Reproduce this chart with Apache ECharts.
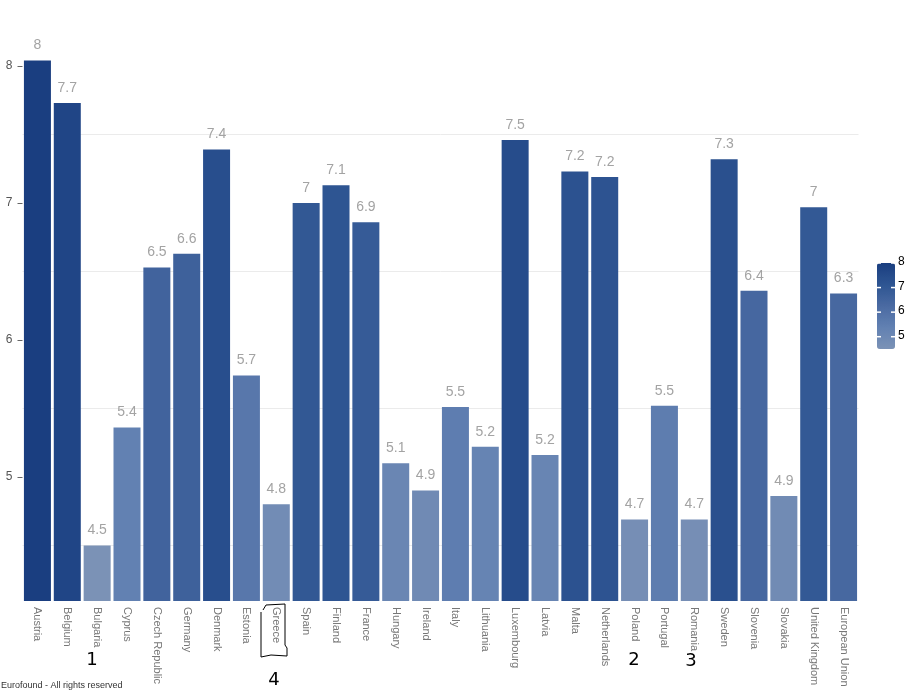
<!DOCTYPE html>
<html>
<head>
<meta charset="utf-8">
<script src="https://cdn.jsdelivr.net/npm/echarts@6/dist/echarts.min.js"></script>
<style>
  html, body { margin: 0; padding: 0; background: #fff; }
  #chart { width: 920px; height: 690px; }
</style>
</head>
<body>
<div id="chart"></div>
<script>
// countries, in the order shown
var countries = ['Austria', 'Belgium', 'Bulgaria', 'Cyprus', 'Czech Republic', 'Germany', 'Denmark',
  'Estonia', 'Greece', 'Spain', 'Finland', 'France', 'Hungary', 'Ireland', 'Italy', 'Lithuania',
  'Luxembourg', 'Latvia', 'Malta', 'Netherlands', 'Poland', 'Portugal', 'Romania', 'Sweden',
  'Slovenia', 'Slovakia', 'United Kingdom', 'European Union']
// mean score
var scores = [8.04, 7.73, 4.5, 5.36, 6.53, 6.63, 7.39, 5.74, 4.8, 7.0, 7.13, 6.86, 5.1, 4.9, 5.51, 5.22,
  7.46, 5.16, 7.23, 7.19, 4.69, 5.52, 4.69, 7.32, 6.36, 4.86, 6.97, 6.34]
var yTicks = [5, 6, 7, 8]
var gridLines = [4.5, 7.5]       // first / last light guide line
var legendTicks = [5, 6, 7, 8]
var colorMin = 4.5, colorMax = 8
// handwritten marks on the picture
var notes = [
  { text: '1', x: 92, y: 660 },
  { text: '2', x: 634, y: 660 },
  { text: '3', x: 691, y: 661 },
  { text: '4', x: 274, y: 680 }
]

var chart = echarts.init(document.getElementById('chart'))

var legTop = 263, legH = 86, legLeft = 877, legW = 18
var legendGraphics = []
legendTicks.forEach(function (v) {
  var y = legTop + (colorMax - v) / (colorMax - colorMin) * legH
  legendGraphics.push({ type: 'line', shape: { x1: legLeft, y1: y, x2: legLeft + 4, y2: y }, style: { stroke: '#fff', lineWidth: 1.5 }, z: 100 })
  legendGraphics.push({ type: 'line', shape: { x1: legLeft + legW - 4, y1: y, x2: legLeft + legW, y2: y }, style: { stroke: '#fff', lineWidth: 1.5 }, z: 100 })
  legendGraphics.push({ type: 'text', left: 898, top: y - 7, style: { text: String(v), fill: '#000', font: '12px "Liberation Sans"' }, z: 100 })
})

var noteGraphics = notes.map(function (n) {
  return { type: 'text', x: n.x, y: n.y, style: { text: n.text, fill: '#000', font: '18px "DejaVu Sans"', align: 'center', verticalAlign: 'middle' } }
})

chart.setOption({
  animation: false,
  grid: [
    { left: 22.5, right: 61.5, top: 25, bottom: 89 },
    { left: 22.5, right: 61.5, top: 134.7, bottom: 144.6 }
  ],
  xAxis: [
    {
      type: 'category',
      gridIndex: 0,
      data: countries,
      axisLine: { show: false },
      axisTick: { alignWithLabel: true, length: 4, lineStyle: { color: '#888' } },
      axisLabel: { rotate: -90, interval: 0, color: '#777', fontSize: 11, margin: 6, fontFamily: 'Liberation Sans' }
    },
    { type: 'value', gridIndex: 1, show: false }
  ],
  yAxis: [
    {
      type: 'value',
      gridIndex: 0,
      min: 4.094,
      max: 8.3,
      splitLine: { show: false },
      axisLine: { show: false },
      axisTick: { show: true, length: 5, customValues: yTicks, lineStyle: { color: '#666' } },
      axisLabel: { customValues: yTicks, color: '#555', fontSize: 12, margin: 10, fontFamily: 'Liberation Sans' }
    },
    {
      type: 'value',
      gridIndex: 1,
      min: gridLines[0],
      max: gridLines[1],
      interval: 1,
      axisLine: { show: false },
      axisTick: { show: false },
      axisLabel: { show: false },
      splitLine: { show: true, lineStyle: { color: '#ebebeb', width: 1 } }
    }
  ],
  visualMap: {
    type: 'continuous',
    seriesIndex: 0,
    min: colorMin,
    max: colorMax,
    calculable: false,
    left: legLeft,
    top: legTop,
    padding: 0,
    itemWidth: legW,
    itemHeight: legH,
    inRange: { color: ['#7b92b6', '#6281b2', '#4a6aa2', '#2e5592', '#1a3e80'] }
  },
  series: [{
    type: 'bar',
    xAxisIndex: 0,
    yAxisIndex: 0,
    data: scores,
    barWidth: 27,
    label: {
      show: true,
      position: 'top',
      distance: 8,
      color: '#a3a3a3',
      fontSize: 14,
      fontFamily: 'Liberation Sans',
      formatter: function (p) { return String(Math.round(p.value * 10) / 10) }
    }
  }],
  graphic: [
    { type: 'text', left: 1, top: 681, style: { text: 'Eurofound - All rights reserved', fill: '#333', font: '9px "Liberation Sans"' } },
    {
      type: 'polyline',
      shape: { points: [[263, 610], [266, 605], [285, 604], [285, 645], [287, 648], [287, 656], [271, 655], [261, 657], [261, 612]] },
      style: { stroke: '#000', fill: null, lineWidth: 1 }
    }
  ].concat(noteGraphics).concat(legendGraphics)
})
</script>
</body>
</html>
